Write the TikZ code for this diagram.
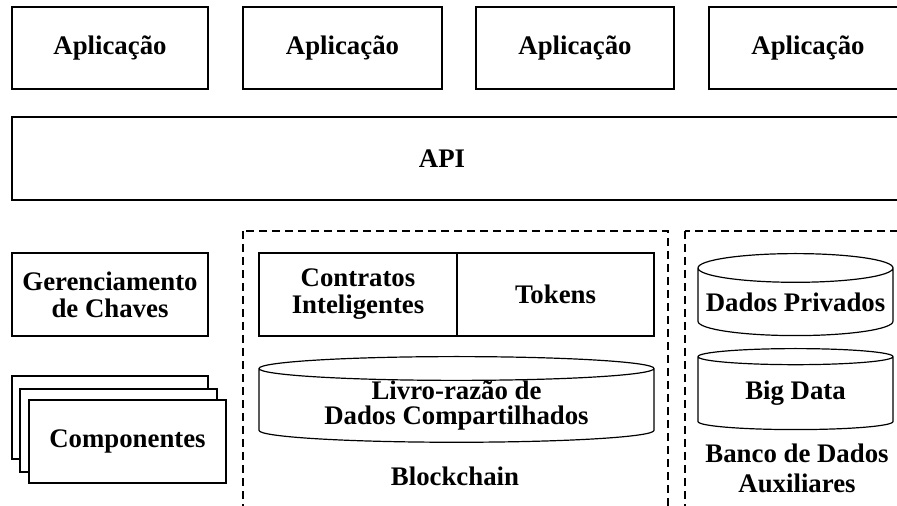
\documentclass[tikz,border=0pt]{standalone}
\usepackage{fontspec}
\setmainfont{Liberation Serif}
\usetikzlibrary{shapes.geometric}

\tikzset{
  box/.style={draw, line width=1pt, fill=white, inner sep=0pt, align=center,
    font=\fontsize{13.4}{13.5}\selectfont\bfseries},
  label/.style={inner sep=0pt, align=center, font=\fontsize{13.4}{13.5}\selectfont\bfseries},
  group/.style={draw, line width=1pt, dash pattern=on 4pt off 2.5pt},
  db/.style={cylinder, shape border rotate=90, draw, line width=0.6pt, inner sep=0pt,
    anchor=north, align=center, font=\fontsize{13.4}{12.5}\selectfont\bfseries},
}

\begin{document}
\begin{tikzpicture}[x=0.5pt,y=-0.5pt]
\useasboundingbox (0,0) rectangle (897,506);
\clip (0,0) rectangle (897,506);

% aplicacoes
\node[box, minimum width=98pt, minimum height=41pt] (app1) at (110,48) {Aplicação};
\node[box, minimum width=99.5pt, minimum height=41pt] (app2) at (342.5,48) {Aplicação};
\node[box, minimum width=99pt, minimum height=41pt] (app3) at (575,48) {Aplicação};
\node[box, minimum width=99pt, minimum height=41pt] (app4) at (808,48) {Aplicação};

% api
\draw[line width=1pt] (12,117) rectangle (912,200);
\node[label] (api) at (442,158.5) {API};

% lado esquerdo
\node[box, minimum width=98pt, minimum height=41.5pt] (chaves) at (110,295) {Gerenciamento\\de Chaves};
\node[box, minimum width=98pt, minimum height=41.5pt] (comp3) at (110,417.5) {};
\node[box, minimum width=98.5pt, minimum height=41.5pt] (comp2) at (118.5,430.5) {};
\node[box, minimum width=98.5pt, minimum height=41.5pt] (comp1) at (127.5,441.5) {Componentes};

% blockchain
\draw[group] (243,231) rectangle (668,520);
\node[box, minimum width=99pt, minimum height=41.5pt] (contratos) at (358,294.5) {Contratos\\Inteligentes};
\node[box, minimum width=98.5pt, minimum height=41.5pt] (tokens) at (555.5,294.5) {Tokens};
\node[db, aspect=0.09, minimum width=197.5pt, minimum height=40.5pt] (livro) at (456.5,356) {Livro-razão de\\Dados Compartilhados};
\node[label] (blockchain) at (455,476) {Blockchain};

% banco de dados auxiliares
\draw[group] (685,231) rectangle (912,520);
\node[db, aspect=0.16, minimum width=97.5pt, minimum height=41pt] (privados) at (795.5,253) {Dados Privados};
\node[db, aspect=0.16, minimum width=97.5pt, minimum height=40.5pt] (bigdata) at (795.5,348) {Big Data};
\node[label, font=\fontsize{13.4}{15}\selectfont\bfseries] (auxiliares) at (797,468) {Banco de Dados\\Auxiliares};
\end{tikzpicture}
\end{document}
